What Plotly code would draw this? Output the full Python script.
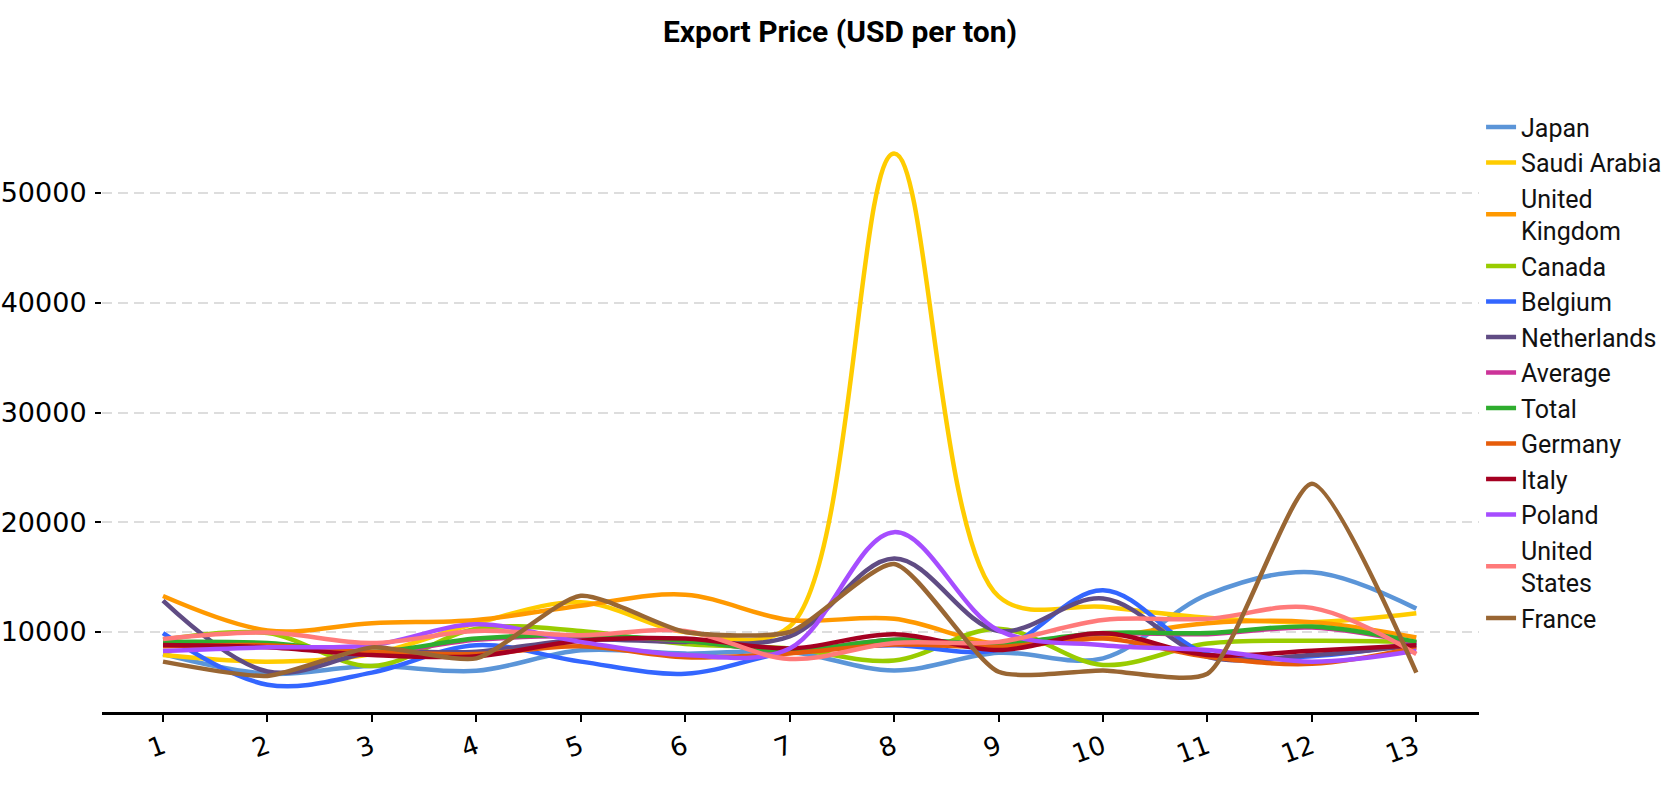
import plotly.graph_objects as go

x_vals = list(range(1, 14))
tick_labels = [str(v) for v in x_vals]

japan = [8000, 6200, 6900, 6470, 8330, 8030, 8180, 6500, 8100, 7600, 13400, 15450, 12130]
saudi_arabia = [7900, 7300, 8000, 10800, 12700, 10000, 10500, 53600, 13250, 12300, 11300, 10900, 11700]
united_kingdom = [13280, 10150, 10800, 11100, 12400, 13400, 11100, 11200, 8900, 9500, 10800, 10900, 9500]
canada = [9300, 9900, 6900, 10300, 10100, 8900, 8500, 7400, 10300, 7000, 8950, 9200, 9100]
belgium = [9900, 5200, 6300, 8800, 7300, 6200, 8200, 8800, 8400, 13800, 8000, 7800, 9000]
netherlands = [12850, 6400, 8100, 8200, 9300, 9100, 9600, 16700, 10100, 13050, 7750, 7900, 8800]
average = [9000, 8900, 8100, 9300, 9600, 9200, 8300, 9300, 8900, 9850, 9800, 10400, 9000]
total = [9100, 9000, 8200, 9400, 9700, 9200, 8300, 9300, 8950, 9900, 9900, 10500, 9100]
germany = [8700, 8800, 8200, 8000, 8700, 7700, 8050, 8850, 8650, 9400, 7750, 7100, 8600]
italy = [8820, 8600, 7900, 7800, 9200, 9400, 8500, 9800, 8350, 9880, 7900, 8300, 8800]
poland = [8270, 8600, 8800, 10700, 9100, 7900, 8500, 19100, 10150, 8800, 8350, 7300, 8300]
united_states = [9360, 9950, 9000, 10100, 9700, 10100, 7550, 9000, 9100, 11100, 11200, 12200, 8000]
france = [7300, 6000, 8600, 7600, 13300, 10000, 10000, 16200, 6380, 6500, 6200, 23500, 6300]

series_names = ["Japan", "Saudi Arabia", "United<br>Kingdom", "Canada", "Belgium",
                "Netherlands", "Average", "Total", "Germany", "Italy", "Poland",
                "United<br>States", "France"]
series_values = [japan, saudi_arabia, united_kingdom, canada, belgium, netherlands,
                 average, total, germany, italy, poland, united_states, france]
colors = ["#5B95D8", "#FFCC00", "#FF9900", "#99CC00", "#3366FF", "#604C84",
          "#CC3399", "#2EAD2E", "#E65C0A", "#A50021", "#A64DFF", "#FF7A7A", "#996633"]
smooth = [1.0] * 12 + [0.6]

fig = go.Figure()
for name, vals, col, sm in zip(series_names, series_values, colors, smooth):
    fig.add_trace(go.Scatter(
        x=x_vals, y=vals, name=name, mode="lines",
        line=dict(color=col, width=4.5, shape="spline", smoothing=sm),
    ))

fig.update_layout(
    width=1680, height=800,
    paper_bgcolor="white", plot_bgcolor="white",
    margin=dict(l=102, r=201, t=90, b=88),
    title=dict(text="<b>Export Price (USD per ton)</b>", x=0.5, xanchor="center",
               y=0.961, yanchor="middle",
               font=dict(family="Roboto", size=30, color="black")),
    legend=dict(x=1.0015, xanchor="left", y=0.977, yanchor="top",
                font=dict(family="Roboto", size=25, color="#111111"),
                tracegroupgap=0,
                bgcolor="rgba(0,0,0,0)"),
    showlegend=True,
)
fig.update_xaxes(
    range=[0.416, 13.6], tickmode="array", tickvals=x_vals, ticktext=tick_labels,
    showline=True, linecolor="black", linewidth=2.5,
    ticks="outside", ticklen=7, tickwidth=2, tickcolor="black",
    tickangle=-20, tickfont=dict(family="DejaVu Sans", size=26, color="black"),
    showgrid=False, zeroline=False, automargin=False,
)
fig.update_yaxes(
    range=[2711, 59385], tickvals=[10000, 20000, 30000, 40000, 50000],
    ticktext=["10000", "20000", "30000", "40000", "50000"],
    showline=False, ticks="outside", ticklen=6, tickwidth=2, tickcolor="black",
    ticklabelstandoff=3,
    tickfont=dict(family="DejaVu Sans", size=27, color="black"),
    showgrid=True, gridcolor="#DDDDDD", gridwidth=2, griddash="10px,6px",
    zeroline=False, automargin=False,
)

fig.write_html("out.html")
